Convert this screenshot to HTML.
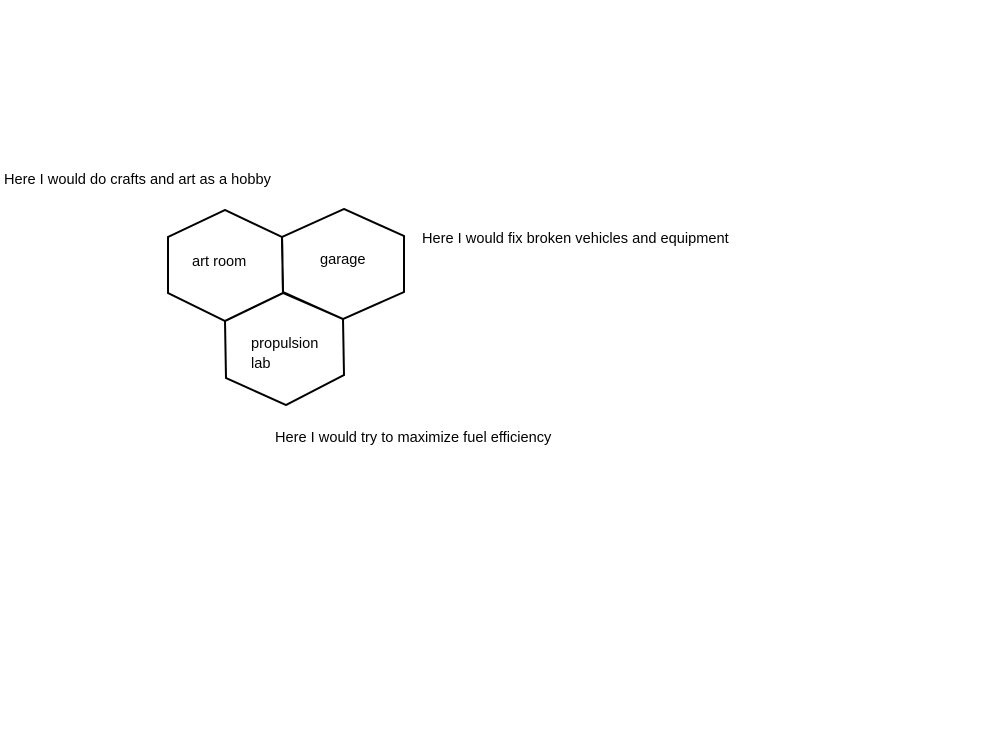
<!DOCTYPE html>
<html><head><style>
body{margin:0;width:1000px;height:750px;background:#fff;position:relative;font-family:"Liberation Sans",sans-serif;font-size:14.6px;color:#000}
.t{position:absolute;white-space:nowrap}
</style></head><body>
<svg width="1000" height="750" style="position:absolute;left:0;top:0">
<g fill="none" stroke="#000" stroke-width="2" stroke-linejoin="miter">
<polygon points="225,210 168,237 168,293 225,321 283,293 282,237"/>
<polygon points="344,209 282,237 283,292 343,319 404,292 404,236"/>
<polygon points="283,293 225,321 226,378 286,405 344,375 343,319"/>
</g>
</svg>
<div class="t" style="left:4px;top:172px">Here I would do crafts and art as a hobby</div>
<div class="t" style="left:192px;top:254px">art room</div>
<div class="t" style="left:320px;top:252px">garage</div>
<div class="t" style="left:422px;top:231px">Here I would fix broken vehicles and equipment</div>
<div class="t" style="left:251px;top:336px">propulsion</div>
<div class="t" style="left:251px;top:356px">lab</div>
<div class="t" style="left:275px;top:430px">Here I would try to maximize fuel efficiency</div>
</body></html>
